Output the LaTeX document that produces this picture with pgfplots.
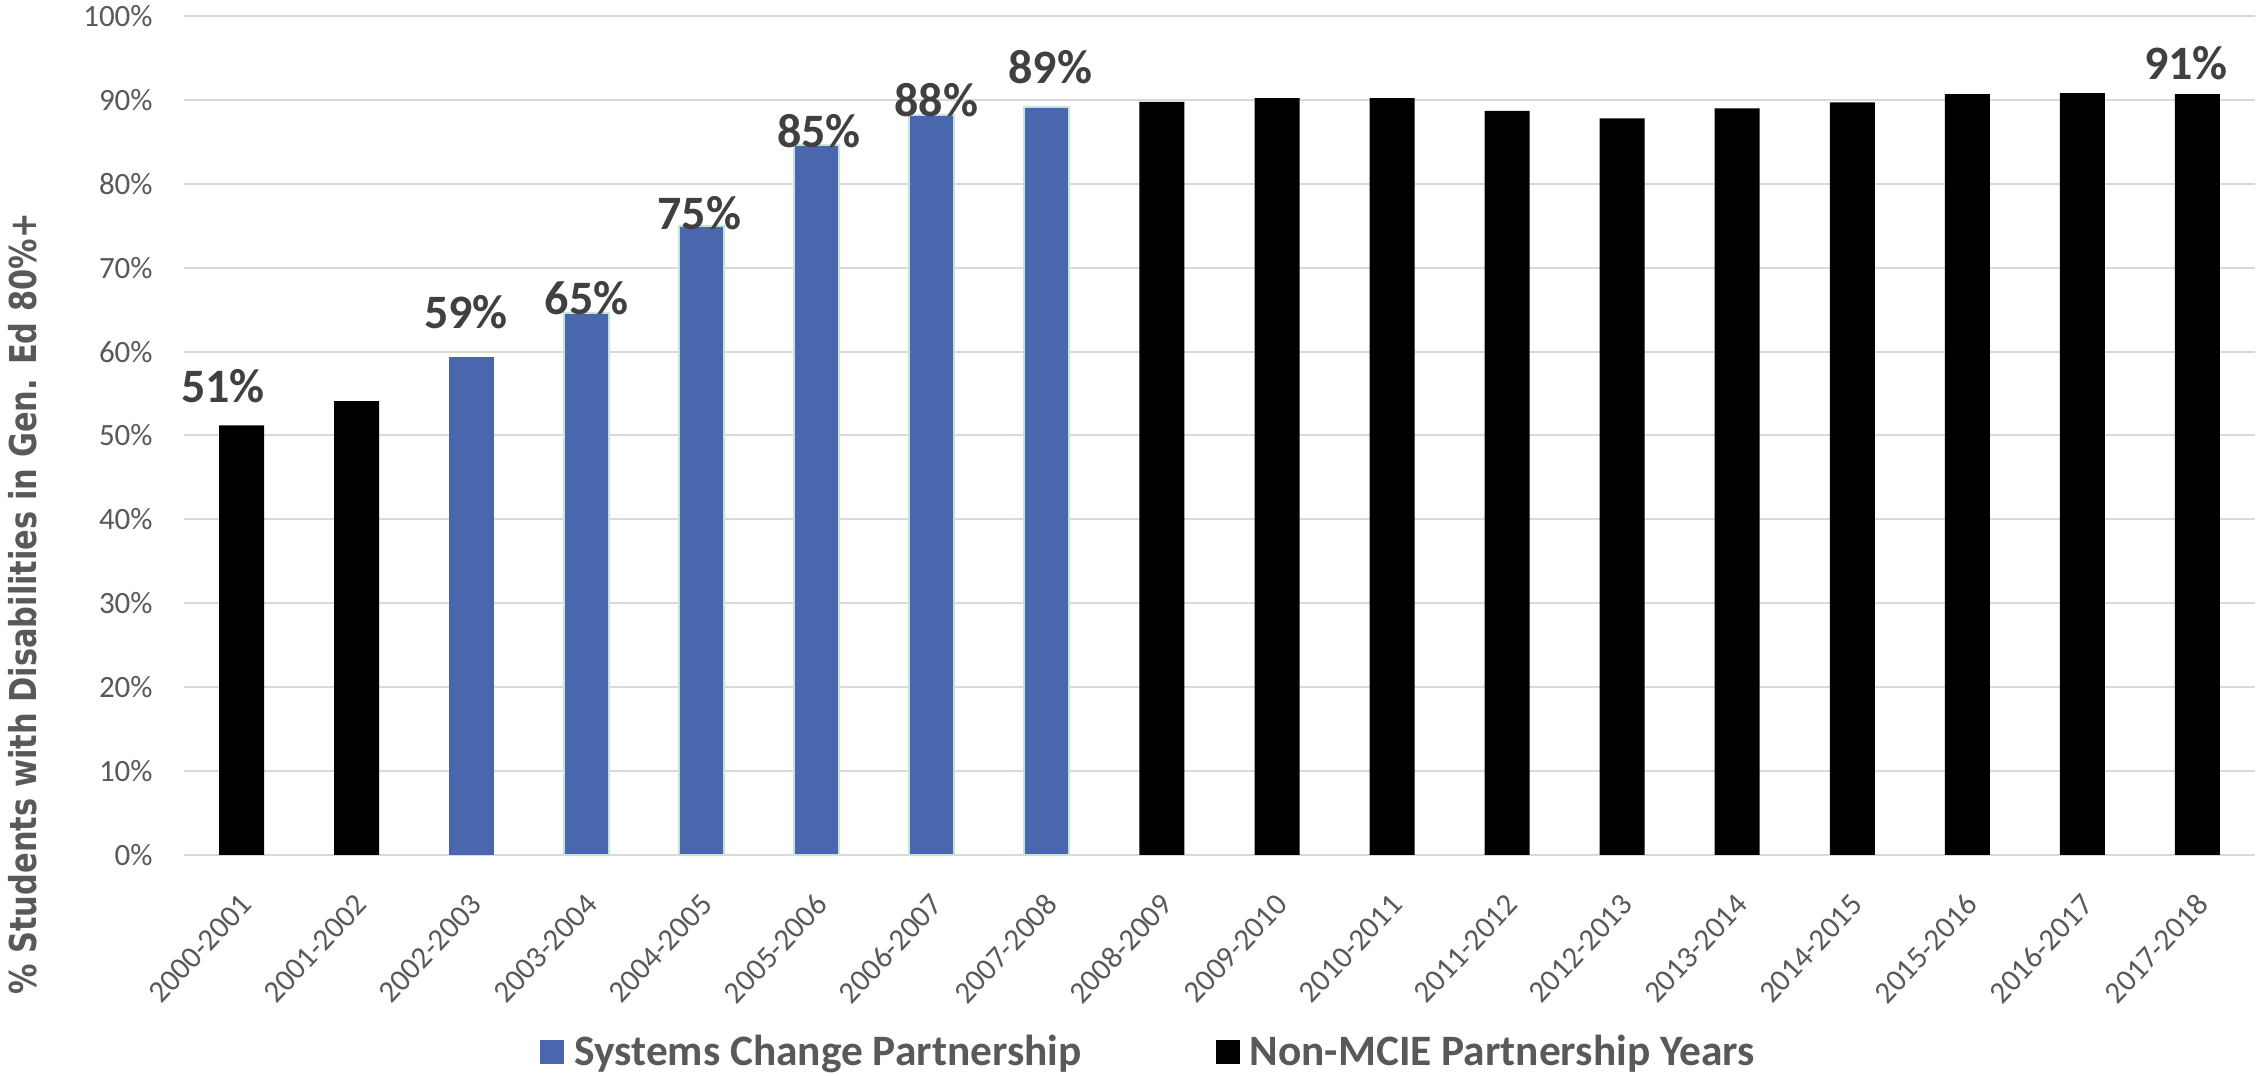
\documentclass[border=0pt]{standalone}
\usepackage{pgfplots}
\pgfplotsset{compat=1.18}
\usepackage{fontspec}
\setmainfont{Carlito}
\newfontfamily\ylabfont[FakeStretch=0.823]{DejaVu Sans}
\definecolor{scblue}{RGB}{74,102,172}
\definecolor{gridgray}{RGB}{217,217,217}
\definecolor{ticktxt}{RGB}{89,89,89}
\definecolor{labtxt}{RGB}{64,64,64}
\definecolor{glow}{RGB}{196,228,214}
\begin{document}
\begin{tikzpicture}
\useasboundingbox (0,0) rectangle (1128.5bp,538bp);
\begin{axis}[
  at={(92bp,110.5bp)}, anchor=south west,
  scale only axis, width=1035.5bp, height=419.5bp,
  xmin=-0.5, xmax=17.5, ymin=0, ymax=100,
  clip=false,
  axis line style={draw=none},
  major tick length=0pt,
  ymajorgrids, grid style={gridgray, line width=1bp},
  ytick={0,10,20,30,40,50,60,70,80,90,100},
  yticklabels={0\%,10\%,20\%,30\%,40\%,50\%,60\%,70\%,80\%,90\%,100\%},
  xtick={0,1,2,3,4,5,6,7,8,9,10,11,12,13,14,15,16,17},
  xticklabels={2000-2001,2001-2002,2002-2003,2003-2004,2004-2005,2005-2006,2006-2007,2007-2008,2008-2009,2009-2010,2010-2011,2011-2012,2012-2013,2013-2014,2014-2015,2015-2016,2016-2017,2017-2018},
  tick label style={font=\fontsize{15.5bp}{18bp}\selectfont, text=ticktxt},
  yticklabel style={anchor=east, inner sep=0pt, xshift=-15.5bp},
  xticklabel style={inner sep=0pt, xshift=2.5bp, yshift=-22bp, rotate=47, anchor=east},
  ylabel={\% Students with Disabilities in Gen. Ed 80\%+},
  ylabel style={at={(axis description cs:-0.07098,0.2992)}, anchor=base, font=\ylabfont\bfseries\fontsize{18.5bp}{22bp}\selectfont, text=ticktxt},
  legend columns=2,
  legend style={draw=none, fill=none, inner sep=0pt,
    at={(axis description cs:0.1719,-0.2345)}, anchor=west,
    nodes={inner sep=0pt},
    /tikz/every odd column/.append style={column sep=5bp},
    /tikz/every even column/.append style={column sep=67bp},
    font=\bfseries\fontsize{21.7bp}{25bp}\selectfont, text=ticktxt},
  legend image code/.code={\fill[#1] (0bp,-6bp) rectangle (12bp,6bp);},
]
\addplot[ybar, bar width=22.5bp, bar shift=0pt, fill=scblue, draw=none] coordinates {(2,59.4)};
\addlegendentry{Systems Change Partnership}
\addplot[ybar, bar width=22.5bp, bar shift=0pt, fill=black, draw=none] coordinates {
(0,51.2) (1,54.1) (8,89.75) (9,90.2) (10,90.2) (11,88.7) (12,87.8) (13,89.0) (14,89.7) (15,90.7) (16,90.8) (17,90.7)};
\addlegendentry{Non-MCIE Partnership Years}
\addplot[ybar, bar width=22.5bp, bar shift=0pt, fill=scblue, draw=glow, line width=1bp, forget plot] coordinates {
(3,64.6) (4,75.0) (5,84.6) (6,88.2) (7,89.1)};
\addplot[draw=none, mark=none, forget plot, nodes near coords, point meta=explicit symbolic,
  every node near coord/.append style={anchor=base, inner sep=0pt, font=\bfseries\fontsize{24bp}{28bp}\selectfont, text=labtxt}]
  coordinates {(-0.16,53.9)[51\%] (1.95,62.8)[59\%] (3,64.4)[65\%] (3.98,74.5)[75\%] (5.02,84.3)[85\%] (6.04,88.0)[88\%] (7.03,92.0)[89\%] (16.9,92.4)[91\%]};
\end{axis}
\end{tikzpicture}
\end{document}
